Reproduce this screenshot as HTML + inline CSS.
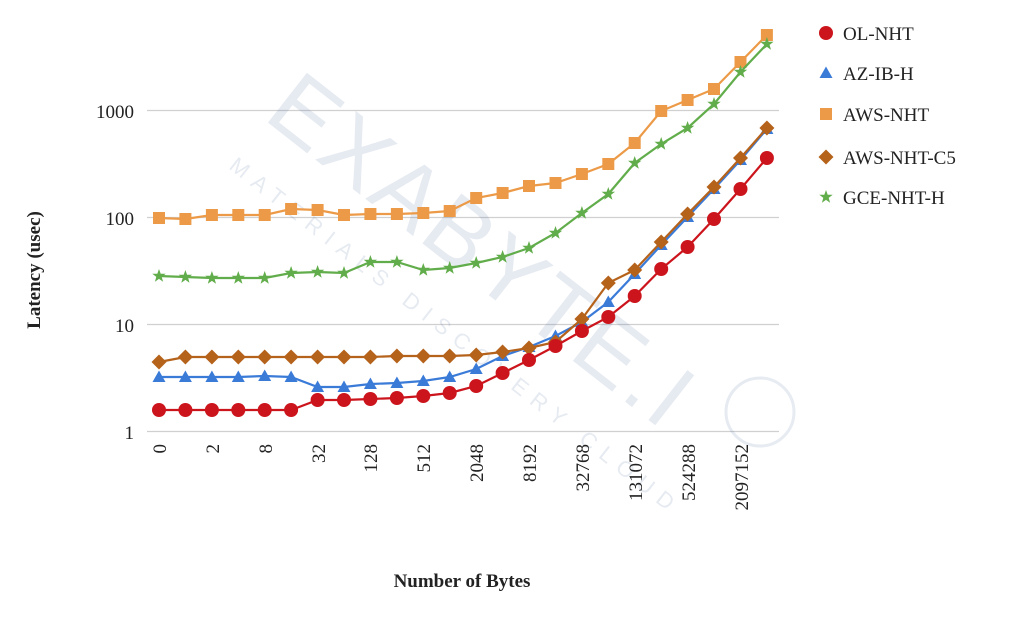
<!DOCTYPE html>
<html><head><meta charset="utf-8"><style>
html,body{margin:0;padding:0;background:#fff;width:1010px;height:618px;overflow:hidden}
svg{display:block}
text{font-family:"Liberation Serif",serif;fill:#222}
</style></head><body>
<svg id="s" width="1010" height="618" viewBox="0 0 1010 618" xmlns="http://www.w3.org/2000/svg">
<defs>
<symbol id="ci" overflow="visible"><circle cx="0" cy="0" r="7" fill="#cc141c"/></symbol>
<symbol id="tr" overflow="visible"><polygon points="0,-6.5 6.5,5 -6.5,5" fill="#3b7bd8"/></symbol>
<symbol id="sq" overflow="visible"><rect x="-6" y="-6" width="12" height="12" fill="#ec9a47"/></symbol>
<symbol id="di" overflow="visible"><polygon points="0,-7.5 7.5,0 0,7.5 -7.5,0" fill="#b5621b"/></symbol>
<symbol id="st" overflow="visible"><polygon points="0,-7 1.7,-2.3 6.7,-2.2 2.7,0.9 4.1,5.7 0,2.9 -4.1,5.7 -2.7,0.9 -6.7,-2.2 -1.7,-2.3" fill="#62ad4b"/></symbol>
</defs>
<g stroke="#d0d0d0" stroke-width="1.3">
<line x1="147" x2="779" y1="110.5" y2="110.5"/>
<line x1="147" x2="779" y1="217.5" y2="217.5"/>
<line x1="147" x2="779" y1="324.5" y2="324.5"/>
<line x1="147" x2="779" y1="431.5" y2="431.5"/>
</g>
<g opacity="0.12">
<text transform="translate(262,118) rotate(38)" style="font-family:'Liberation Sans',sans-serif;font-size:92px;fill:#3a5a90;letter-spacing:4px">EXABYTE.I</text>
<text transform="translate(228,168) rotate(38)" style="font-family:'Liberation Sans',sans-serif;font-size:22px;fill:#3a5a90;letter-spacing:9px">MATERIALS DISCOVERY CLOUD</text>
<circle cx="760" cy="412" r="34" fill="none" stroke="#3a5a90" stroke-width="3"/>
</g>
<g font-size="19" text-anchor="end">
<text x="134" y="118">1000</text>
<text x="134" y="225">100</text>
<text x="134" y="332">10</text>
<text x="134" y="439">1</text>
</g>
<g font-size="19" text-anchor="end">
<text transform="translate(166,444) rotate(-90)">0</text>
<text transform="translate(219,444) rotate(-90)">2</text>
<text transform="translate(272,444) rotate(-90)">8</text>
<text transform="translate(325,444) rotate(-90)">32</text>
<text transform="translate(377,444) rotate(-90)">128</text>
<text transform="translate(430,444) rotate(-90)">512</text>
<text transform="translate(483,444) rotate(-90)">2048</text>
<text transform="translate(536,444) rotate(-90)">8192</text>
<text transform="translate(589,444) rotate(-90)">32768</text>
<text transform="translate(642,444) rotate(-90)">131072</text>
<text transform="translate(695,444) rotate(-90)">524288</text>
<text transform="translate(748,444) rotate(-90)">2097152</text>
</g>
<text transform="translate(40,270) rotate(-90)" text-anchor="middle" font-size="19" font-weight="bold">Latency (usec)</text>
<text x="462" y="587" text-anchor="middle" font-size="19" font-weight="bold">Number of Bytes</text>
<g id="series"></g>
<g font-size="19">
<use href="#ci" x="826" y="33"/><text x="843" y="40">OL-NHT</text>
<use href="#tr" x="826" y="73"/><text x="843" y="80">AZ-IB-H</text>
<use href="#sq" x="826" y="114"/><text x="843" y="121">AWS-NHT</text>
<use href="#di" x="826" y="157"/><text x="843" y="164">AWS-NHT-C5</text>
<use href="#st" x="826" y="197"/><text x="843" y="204">GCE-NHT-H</text>
</g>
</svg>
<script>
var S=[
["#ec9a47","sq",[218,219,215,215,215,209,210,215,214,214,213,211,198,193,186,183,174,164,143,111,100,89,62,35]],
["#62ad4b","st",[276,277,278,278,278,273,272,273,262,262,270,268,263,257,248,233,213,194,163,144,128,104,72,44]],
["#3b7bd8","tr",[377,377,377,377,376,377,387,387,384,383,381,377,369,356,347,336,322,302,274,245,217,189,160,129]],
["#b5621b","di",[362,357,357,357,357,357,357,357,357,356,356,356,355,352,348,342,319,283,270,242,214,187,158,128]],
["#cc141c","ci",[410,410,410,410,410,410,400,400,399,398,396,393,386,373,360,346,331,317,296,269,247,219,189,158]]];
var g=document.getElementById("series"),h="";
S.forEach(function(s){var p=s[2].map(function(y,i){return (159+26.43*i).toFixed(1)+","+y}).join(" ");
h+='<polyline points="'+p+'" fill="none" stroke="'+s[0]+'" stroke-width="2.2"/>';
s[2].forEach(function(y,i){h+='<use href="#'+s[1]+'" x="'+(159+26.43*i).toFixed(1)+'" y="'+y+'"/>';});});
g.innerHTML=h;
</script>
</body></html>
